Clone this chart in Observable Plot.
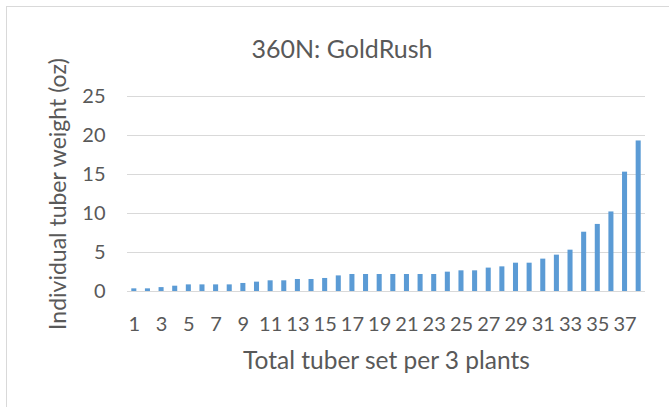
<!DOCTYPE html>
<html><head><meta charset="utf-8">
<script src="https://cdn.jsdelivr.net/npm/d3@7"></script>
<script src="https://cdn.jsdelivr.net/npm/@observablehq/plot@0.6"></script>
<style>
body{margin:0;background:#fff;}
#wrap{position:relative;width:669px;height:407px;overflow:hidden;font-family:Lato,"Open Sans",sans-serif;}
#frame{position:absolute;left:6px;top:6px;width:700px;height:500px;border:1.5px solid #d9d9d9;box-sizing:border-box;}
#title{position:absolute;left:17px;width:650px;top:36px;line-height:25px;text-align:center;font-size:25px;color:#595959;white-space:nowrap;}
#chart{position:absolute;left:0;top:0;}
</style></head><body>
<div id="wrap"><div id="frame"></div><div id="title"></div><div id="chart"></div></div>
<script>
const tubers = d3.range(1, 39);
const weights = [0.34,0.34,0.5,0.68,0.85,0.85,0.85,0.85,1.03,1.2,1.37,1.37,1.54,1.54,1.67,2.0,2.18,2.18,2.18,2.18,2.18,2.18,2.18,2.48,2.65,2.65,3.0,3.16,3.63,3.63,4.15,4.66,5.3,7.6,8.6,10.2,15.3,19.3];
const yTicks = [0,5,10,15,20,25];
const xTicks = tubers.filter(d => d % 2 === 1);
const title = "360N: GoldRush";
const xLabel = "Total tuber set per 3 plants";
const yLabel = "Individual tuber weight (oz)";
document.getElementById("title").textContent = title;
const data = tubers.map((t,i) => ({t, w: weights[i]}));
const chart = Plot.plot({
  width: 669, height: 407,
  marginLeft: 127, marginRight: 24, marginTop: 96, marginBottom: 116,
  style: {fontFamily: "Lato, 'Open Sans', sans-serif", background: "transparent", color: "#595959"},
  x: {type: "band", domain: tubers, paddingInner: 0.63, paddingOuter: 0.315, round: false},
  y: {domain: [0,25]},
  marks: [
    Plot.gridY(yTicks, {stroke: "#d9d9d9", strokeOpacity: 1, strokeWidth: 1.2}),
    Plot.barY(data, {x: "t", y: "w", fill: "#5b9bd5"}),
    Plot.axisY(yTicks, {tickSize: 0, tickPadding: 22, fontSize: 20, fill: "#595959", label: null}),
    Plot.axisX(xTicks, {tickSize: 0, tickPadding: 25, fontSize: 20, fill: "#595959", label: null}),
    Plot.text([xLabel], {frameAnchor: "bottom", lineAnchor: "middle", dy: 70, fontSize: 24.5, fill: "#595959", text: d => d}),
    Plot.text([yLabel], {frameAnchor: "left", dx: -69, rotate: -90, textAnchor: "middle", lineAnchor: "middle", fontSize: 23, fill: "#595959", text: d => d})
  ]
});
document.getElementById("chart").appendChild(chart);
</script>
</body></html>
